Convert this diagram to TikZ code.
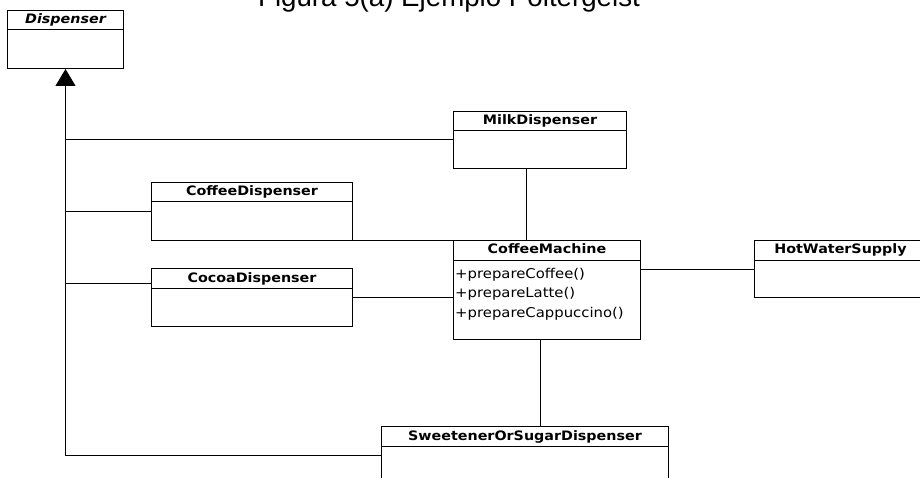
\documentclass[tikz,border=0pt]{standalone}
\usepackage{fontspec}
\setmainfont{DejaVu Sans}
\newfontfamily\umlfont[FakeStretch=1.1]{DejaVu Sans}
\newfontfamily\titlefont{Liberation Sans}
\usetikzlibrary{arrows.meta,positioning}

\tikzset{
  classbox/.style={draw, line width=1pt, rectangle, inner sep=0pt, anchor=north west},
  classname/.style={anchor=base, inner sep=0pt, font=\umlfont\fontsize{13}{15}\selectfont\bfseries},
  methodtext/.style={anchor=base west, inner sep=0pt, font=\umlfont\fontsize{13.5}{15}\selectfont},
  link/.style={line width=1pt}
}

% caja de clase UML: [estilo nombre]{nodo}{esquina}{ancho}{alto}{titulo}
\newcommand{\umlclass}[6][]{%
  \node[classbox, minimum width=#4, minimum height=#5] (#2) at (#3) {};
  \node[classname, #1] (#2-name) at ([yshift=-14pt]#2.north) {#6};
  \draw[link] ([yshift=-20pt]#2.north west) -- ([yshift=-20pt]#2.north east);
}

\begin{document}
\begin{tikzpicture}[x=1pt,y=-1pt]
  \useasboundingbox (0,0) rectangle (920,478);

  \node[anchor=base, font=\titlefont\fontsize{27.7}{30}\selectfont] (titulo) at (449,7) {Figura 5(a) Ejemplo Poltergeist};

  % clases
  \umlclass[font=\umlfont\fontsize{13}{15}\selectfont\bfseries\itshape]{dispenser}{7,10}{116pt}{58pt}{Dispenser}
  \umlclass{milk}{453,111}{173pt}{57pt}{MilkDispenser}
  \umlclass{coffee}{151,182}{201pt}{58pt}{CoffeeDispenser}
  \umlclass{cocoa}{151,268}{201pt}{58pt}{CocoaDispenser}
  \umlclass{machine}{453,240}{187pt}{99pt}{CoffeeMachine}
  \umlclass{hot}{754,240}{172pt}{57pt}{HotWaterSupply}
  \umlclass{sweet}{381,426}{287pt}{58pt}{SweetenerOrSugarDispenser}

  \node[methodtext] (op1) at ([xshift=2pt,yshift=-38pt]machine.north west) {+prepareCoffee()};
  \node[methodtext] (op2) at ([yshift=-19.5pt]op1.base west) {+prepareLatte()};
  \node[methodtext] (op3) at ([yshift=-19.5pt]op2.base west) {+prepareCappuccino()};

  % herencia
  \draw[link, -{Triangle[width=20pt,length=17pt]}] (sweet.west) -| (dispenser.south);
  \draw[link] (milk.west) -- (milk.west -| dispenser.south);
  \draw[link] (coffee.west) -- (coffee.west -| dispenser.south);
  \draw[link] ([yshift=14pt]cocoa.west) -- ([yshift=14pt]cocoa.west -| dispenser.south);

  % asociaciones
  \draw[link] (coffee.south east) -- (coffee.south east -| machine.west);
  \draw[link] (cocoa.east) -- (cocoa.east -| machine.west);
  \draw[link] (machine.east |- hot.west) -- (hot.west);
  \draw[link] ([xshift=-14pt]milk.south) -- ([xshift=-14pt]milk.south |- machine.north);
  \draw[link] ([xshift=-7pt]machine.south) -- ([xshift=-7pt]machine.south |- sweet.north);
\end{tikzpicture}
\end{document}
